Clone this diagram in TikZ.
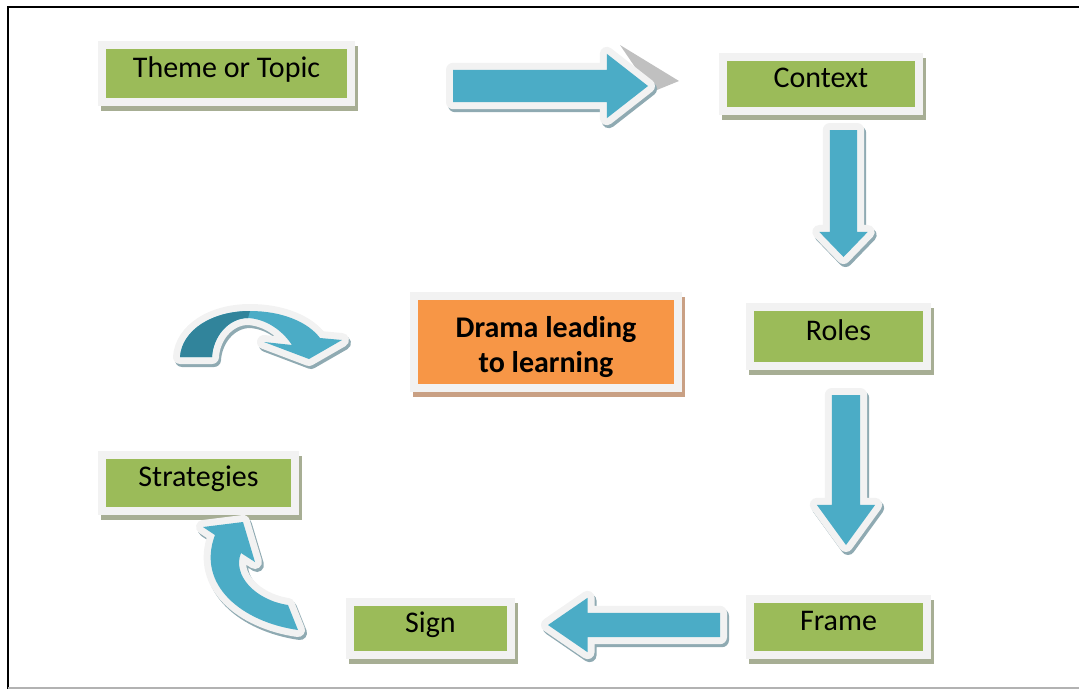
\documentclass[tikz,border=0pt]{standalone}
\usepackage{fontspec}
\setmainfont{Carlito}
\usetikzlibrary{shapes.arrows}

\definecolor{boxgreen}{HTML}{9BBB59}
\definecolor{boxorange}{HTML}{F79646}
\definecolor{boxframe}{HTML}{F2F2F2}
\definecolor{greenshade}{HTML}{A7AE94}
\definecolor{orangeshade}{HTML}{C9A084}
\definecolor{arrowblue}{HTML}{4BACC6}
\definecolor{arrowdark}{HTML}{31849B}
\definecolor{arrowshade}{HTML}{8FAAB2}
\definecolor{headgray}{HTML}{C0C0C0}

\begin{document}
\begin{tikzpicture}[x=1pt, y=-1pt, font=\fontsize{30}{36}\selectfont]

        % Styles for nodes
        \tikzstyle{stage} = [fill=boxgreen, inner sep=0pt, align=center, text height=0.85em, text depth=0.15em,
            preaction={draw=greenshade, fill=greenshade, line width=16pt, transform canvas={shift={(3,5)}}},
            preaction={draw=boxframe, line width=16pt}]
        \tikzstyle{core} = [fill=boxorange, inner sep=0pt, align=center, font=\fontsize{30}{35}\selectfont\bfseries,
            preaction={draw=orangeshade, fill=orangeshade, line width=16pt, transform canvas={shift={(3,5)}}},
            preaction={draw=boxframe, line width=16pt}]
        \tikzstyle{flow} = [single arrow, fill=arrowblue, inner xsep=0pt, outer sep=0pt,
            preaction={draw=arrowshade, fill=arrowshade, line width=14pt, line join=round, transform canvas={shift={(2,3)}}},
            preaction={draw=boxframe, line width=14pt, line join=round}]
        \tikzstyle{curl} = [fill=arrowblue,
            preaction={draw=arrowshade, fill=arrowshade, line width=14pt, line join=round, transform canvas={shift={(2,3)}}},
            preaction={draw=boxframe, fill=boxframe, line width=14pt, line join=round}]

        \useasboundingbox (0,0) rectangle (1079,689);

        % Page frame
        \draw[line width=2pt] (8,689) -- (8,7) -- (1079,7);
        \draw[black!30, line width=2pt] (8,688) -- (1079,688);

        % Nodes
        \node[stage, minimum width=241pt, minimum height=49pt] (theme) at (226.5,73.5) {Theme or Topic};
        \node[stage, minimum width=188pt, minimum height=46pt] (context) at (821,84) {Context};
        \node[stage, minimum width=169pt, minimum height=51pt] (roles) at (838.5,336.5) {Roles};
        \node[stage, minimum width=169pt, minimum height=48pt] (frame) [below of=roles, node distance=290.5pt] {Frame};
        \node[stage, minimum width=153pt, minimum height=45pt] (sign) at (430.5,628.5) {Sign};
        \node[stage, minimum width=185pt, minimum height=48pt] (strategies) at (198.5,483) {Strategies};
        \node[core, minimum width=256pt, minimum height=84pt] (drama) at (546,342) {\rule{0pt}{31pt}Drama leading\\to learning};

        % Arrows
        \fill[headgray] (620,45) -- (679,81) -- (652,92) -- cycle;
        \node[flow, inner ysep=16pt, single arrow head extend=16pt, single arrow tip angle=76,
            minimum height=195pt, anchor=tail] (toContext) at (453,86) {};
        \node[flow, rotate=270, inner ysep=13.5pt, single arrow head extend=10.5pt, single arrow tip angle=88,
            minimum height=127pt, anchor=tail] (toRoles) at (843.5,130) {};
        \node[flow, rotate=270, inner ysep=14pt, single arrow head extend=15pt, single arrow tip angle=72,
            minimum height=150pt, anchor=tail] (toFrame) at (846,395) {};
        \node[flow, rotate=180, inner ysep=12pt, single arrow head extend=15pt, single arrow tip angle=69,
            minimum height=172pt, anchor=tail] (toSign) at (720,625) {};

        % Curved arrows
        \path[curl] (180,357) .. controls (182,330) and (212,311) .. (250,311)
            .. controls (282,311) and (308,322) .. (320,338) -- (342,340) -- (309,359) -- (264,342) -- (292,345)
            .. controls (282,330) and (266,319) .. (248,318)
            .. controls (228,318) and (213,337) .. (212,357) -- cycle;
        \fill[arrowdark] (180,357) .. controls (182,330) and (212,311) .. (250,311) -- (248,318)
            .. controls (228,318) and (213,337) .. (212,357) -- cycle;
        \path[curl] (298,630) .. controls (242,622) and (196,585) .. (215,535) -- (203,527) -- (243,522)
            -- (255,562) -- (241,553) .. controls (232,575) and (255,600) .. (288,605) -- cycle;

    \end{tikzpicture}
\end{document}
